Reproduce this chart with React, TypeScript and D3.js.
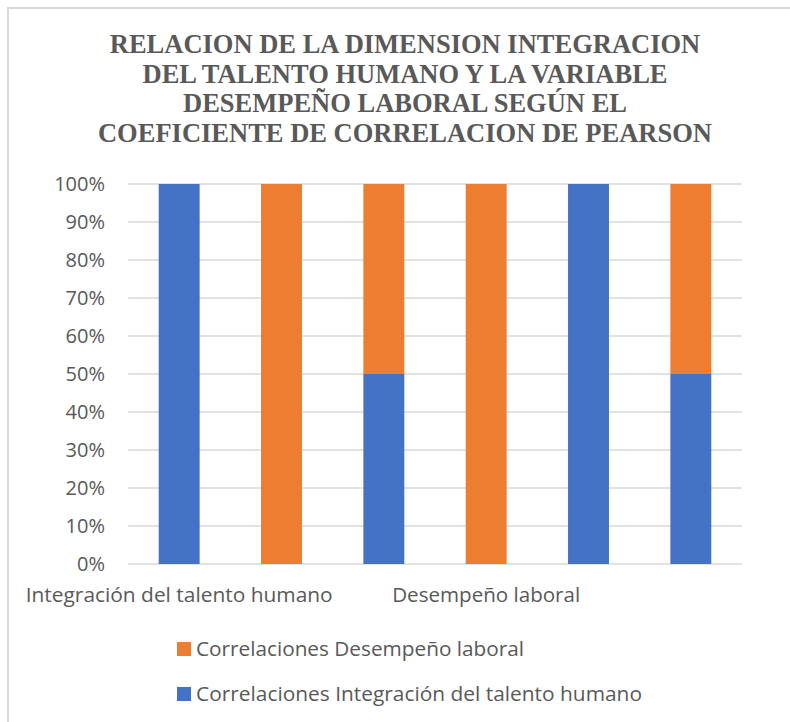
import React, { useEffect, useRef } from 'react';
import * as d3 from 'd3';

// categories on the x axis (only the first of each group carries a label)
const categories = ['c1', 'c2', 'c3', 'c4', 'c5', 'c6'];
const categoryLabels = ['Integración del talento humano', '', '', 'Desempeño laboral', '', ''];

// series values (100% stacked)
const integracionValues = [1, 0, 0.5, 0, 1, 0.5];
const desempenoValues = [0, 1, 0.5, 1, 0, 0.5];

const seriesNames = ['Correlaciones Integración del talento humano', 'Correlaciones Desempeño laboral'];
const seriesColors = ['#4472C4', '#ED7D31'];

const yTicks = [0, 0.1, 0.2, 0.3, 0.4, 0.5, 0.6, 0.7, 0.8, 0.9, 1];

const titleLines = [
  'RELACION DE LA DIMENSION INTEGRACION',
  'DEL TALENTO HUMANO Y LA VARIABLE',
  'DESEMPEÑO LABORAL SEGÚN EL',
  'COEFICIENTE DE CORRELACION DE PEARSON',
];

export default function App() {
  const ref = useRef<SVGSVGElement>(null);

  useEffect(() => {
    const width = 790;
    const height = 722;
    const margin = { top: 184, right: 48, bottom: 158, left: 128 };
    const sans = '"Open Sans", sans-serif';
    const textColor = '#595959';
    // the reference text runs a bit wider than Open Sans, stretch to fit
    const labelWidths = [307, 0, 0, 188, 0, 0];
    const legendWidths = [446, 328];

    const svg = d3.select(ref.current).attr('viewBox', [0, 0, width, height]);
    svg.selectAll('*').remove();

    // chart frame (only top and left edges visible in the crop)
    svg
      .append('path')
      .attr('d', `M8,${height} L8,8 L${width},8`)
      .attr('fill', 'none')
      .attr('stroke', '#d9d9d9')
      .attr('stroke-width', 2);

    // title
    svg
      .append('g')
      .selectAll('text')
      .data(titleLines)
      .enter()
      .append('text')
      .attr('x', 405)
      .attr('y', (d, i) => 53 + i * 29.5)
      .attr('text-anchor', 'middle')
      .style('font-family', '"Liberation Serif", "Times New Roman", serif')
      .style('font-weight', 'bold')
      .style('font-size', '26.5px')
      .style('fill', textColor)
      .text((d) => d);

    const x = d3
      .scaleBand()
      .domain(categories)
      .range([margin.left, width - margin.right])
      .paddingInner(0.6)
      .paddingOuter(0.3);

    const y = d3
      .scaleLinear()
      .domain([0, 1])
      .range([height - margin.bottom, margin.top]);

    // gridlines
    svg
      .append('g')
      .selectAll('line')
      .data(yTicks)
      .enter()
      .append('line')
      .attr('x1', margin.left)
      .attr('x2', width - margin.right)
      .attr('y1', (d) => y(d))
      .attr('y2', (d) => y(d))
      .attr('stroke', '#d9d9d9')
      .attr('stroke-width', 1.5);

    // y tick labels
    svg
      .append('g')
      .selectAll('text')
      .data(yTicks)
      .enter()
      .append('text')
      .attr('x', 105)
      .attr('y', (d) => y(d))
      .attr('dy', '0.36em')
      .attr('text-anchor', 'end')
      .style('font-family', sans)
      .style('font-size', '20px')
      .style('fill', textColor)
      .text((d) => d3.format('.0%')(d));

    // stacked bars
    const table = categories.map((c, i) => ({
      cat: c,
      integracion: integracionValues[i],
      desempeno: desempenoValues[i],
    }));
    const stack = d3.stack<any>().keys(['integracion', 'desempeno'])(table);

    svg
      .append('g')
      .selectAll('g')
      .data(stack)
      .enter()
      .append('g')
      .attr('fill', (d, i) => seriesColors[i])
      .selectAll('rect')
      .data((d) => d)
      .enter()
      .append('rect')
      .attr('x', (d) => x(d.data.cat))
      .attr('width', x.bandwidth())
      .attr('y', (d) => y(d[1]))
      .attr('height', (d) => y(d[0]) - y(d[1]));

    // x category labels
    svg
      .append('g')
      .selectAll('text')
      .data(categories.filter((d, i) => categoryLabels[i]))
      .enter()
      .append('text')
      .attr('x', (d) => x(d) + x.bandwidth() / 2)
      .attr('y', 602)
      .attr('text-anchor', 'middle')
      .attr('textLength', (d) => labelWidths[categories.indexOf(d)])
      .attr('lengthAdjust', 'spacingAndGlyphs')
      .style('font-family', sans)
      .style('font-size', '20px')
      .style('fill', textColor)
      .text((d) => categoryLabels[categories.indexOf(d)]);

    // legend (Desempeño listed first, as in the reference)
    const legendOrder = [1, 0];
    const legend = svg
      .append('g')
      .selectAll('g')
      .data(legendOrder)
      .enter()
      .append('g')
      .attr('transform', (d, i) => `translate(177, ${642 + i * 45})`);

    legend
      .append('rect')
      .attr('width', 14)
      .attr('height', 14)
      .attr('fill', (d) => seriesColors[d]);

    legend
      .append('text')
      .attr('x', 19)
      .attr('y', 14)
      .attr('textLength', (d) => legendWidths[d])
      .attr('lengthAdjust', 'spacingAndGlyphs')
      .style('font-family', sans)
      .style('font-size', '20px')
      .style('fill', textColor)
      .text((d) => seriesNames[d]);
  });

  return (
    <svg
      ref={ref}
      width={790}
      height={722}
      style={{ display: 'block', position: 'absolute', left: 0, top: 0 }}
    />
  );
}
